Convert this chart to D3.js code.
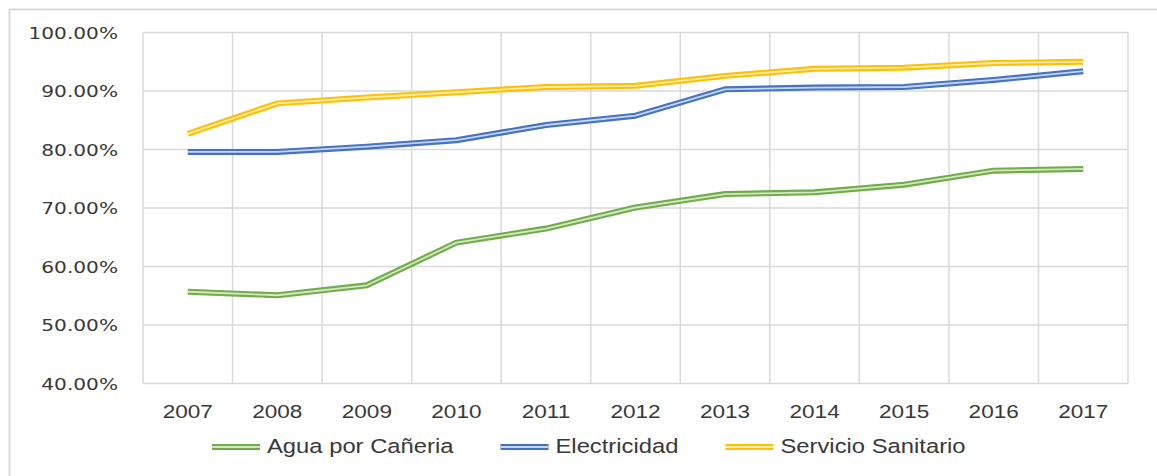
<!DOCTYPE html>
<html>
<head>
<meta charset="utf-8">
<script src="https://cdn.jsdelivr.net/npm/d3@7"></script>
<style>
  html, body { margin: 0; padding: 0; background: #fff; }
  svg { display: block; }
</style>
</head>
<body>
<svg id="chart" width="1157" height="476"></svg>
<script>
// Coverage of basic services, 2007–2017 (percent of households)
const years = ["2007", "2008", "2009", "2010", "2011", "2012", "2013", "2014", "2015", "2016", "2017"];
const agua = [55.6, 55.0, 56.7, 64.0, 66.4, 70.0, 72.3, 72.6, 73.9, 76.3, 76.6];
const electricidad = [79.5, 79.5, 80.4, 81.5, 84.1, 85.7, 90.2, 90.5, 90.6, 91.8, 93.3];
const sanitario = [82.6, 87.8, 88.8, 89.7, 90.6, 90.8, 92.5, 93.7, 93.9, 94.7, 94.9];
const yTicks = [40, 50, 60, 70, 80, 90, 100];
const seriesNames = ["Agua por Cañeria", "Electricidad", "Servicio Sanitario"];
const seriesColors = ["#70ad47", "#4472c4", "#ffc000"];

const series = [agua, electricidad, sanitario].map((vals, i) => ({
  name: seriesNames[i],
  color: seriesColors[i],
  values: vals.map((v, j) => ({ year: years[j], value: v }))
}));

const svg = d3.select("#chart");
const SX = 1.22; // horizontal text stretch
const plot = { left: 143, right: 1128, top: 32, bottom: 383 };
const textColor = "#383838";

// outer chart frame
svg.append("rect")
  .attr("x", 9.5).attr("y", 9.5)
  .attr("width", 1170).attr("height", 480)
  .attr("fill", "#fff")
  .attr("stroke", "#d9d9d9").attr("stroke-width", 2);

const x = d3.scaleBand().domain(years).range([plot.left, plot.right]);
const y = d3.scaleLinear().domain([40, 100]).range([plot.bottom, plot.top]);

// horizontal gridlines + y labels
const yAxis = svg.append("g")
  .attr("transform", `translate(${plot.left},0)`)
  .call(d3.axisLeft(y).tickValues(yTicks)
    .tickSize(-(plot.right - plot.left))
    .tickFormat(d => d.toFixed(2) + "%"));
yAxis.select(".domain").remove();
yAxis.selectAll(".tick line")
  .attr("stroke", "#d9d9d9").attr("stroke-width", 1.5);
yAxis.selectAll(".tick text")
  .attr("x", -25 / SX)
  .attr("dy", null)
  .attr("y", 6)
  .attr("transform", `scale(${SX},1)`)
  .attr("font-family", "'DejaVu Sans', Verdana, sans-serif")
  .attr("font-size", 16.5)
  .attr("fill", textColor)
  .attr("text-anchor", "end");

// vertical gridlines at category boundaries
const bounds = years.map(d => x(d)).concat([plot.right]);
svg.append("g").selectAll("line")
  .data(bounds)
  .join("line")
  .attr("x1", d => d).attr("x2", d => d)
  .attr("y1", plot.top).attr("y2", plot.bottom)
  .attr("stroke", "#d9d9d9").attr("stroke-width", 1.5);

// x labels
const xAxis = svg.append("g")
  .attr("transform", `translate(0,${plot.bottom})`)
  .call(d3.axisBottom(x).tickSize(0));
xAxis.select(".domain").remove();
xAxis.selectAll(".tick text")
  .attr("dy", null)
  .attr("y", 35)
  .attr("transform", `scale(${SX},1)`)
  .attr("font-family", "'Liberation Sans', Arial, sans-serif")
  .attr("font-size", 18.5)
  .attr("fill", textColor);

// double-stroke lines
const line = d3.line()
  .x(d => x(d.year) + x.bandwidth() / 2)
  .y(d => y(d.value));

const lines = svg.append("g").attr("fill", "none")
  .attr("stroke-linejoin", "round");
series.forEach(s => {
  lines.append("path")
    .attr("d", line(s.values))
    .attr("stroke", s.color)
    .attr("stroke-width", 6);
  lines.append("path")
    .attr("d", line(s.values))
    .attr("stroke", d3.interpolateRgb(s.color, "#ffffff")(0.7))
    .attr("stroke-width", 1.8);
});

// legend
const legend = svg.append("g");
let lx = 212;
const ly = 447;
series.forEach(s => {
  const g = legend.append("g").attr("transform", `translate(${lx},${ly})`);
  g.append("line").attr("x1", 0).attr("x2", 48).attr("y1", 0).attr("y2", 0)
    .attr("stroke", s.color).attr("stroke-width", 6);
  g.append("line").attr("x1", 0).attr("x2", 48).attr("y1", 0).attr("y2", 0)
    .attr("stroke", d3.interpolateRgb(s.color, "#ffffff")(0.7)).attr("stroke-width", 1.8);
  const t = g.append("text")
    .attr("x", 55 / SX)
    .attr("y", 6)
    .attr("transform", `scale(${SX},1)`)
    .attr("font-family", "'Liberation Sans', Arial, sans-serif")
    .attr("font-size", 19.5)
    .attr("fill", textColor)
    .text(s.name);
  const w = t.node().getComputedTextLength() * SX;
  lx += 55 + w + 47;
});
</script>
</body>
</html>
